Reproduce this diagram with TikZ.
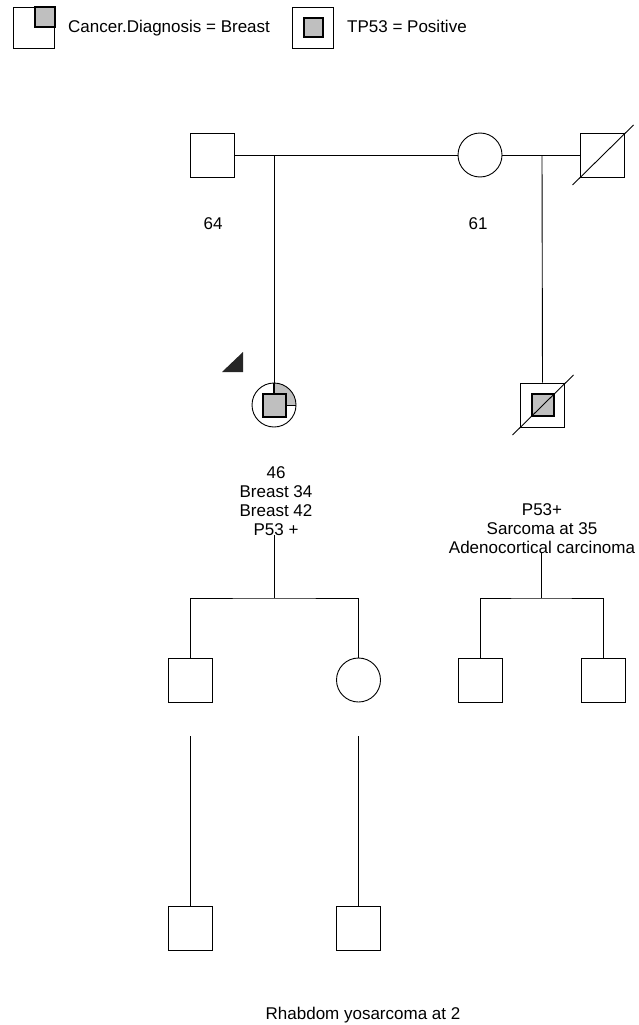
\documentclass[tikz,border=0pt]{standalone}
\usepackage{fontspec}
\setmainfont{Liberation Sans}
\begin{document}
\begin{tikzpicture}[x=1pt,y=-1pt,
  sq/.style={draw, line width=0.9pt, rectangle, minimum size=44pt, inner sep=0pt},
  ci/.style={draw, line width=0.9pt, circle, minimum size=44pt, inner sep=0pt},
  carrier/.style={draw, line width=2pt, rectangle, fill=gray!50, minimum size=22pt, inner sep=0pt},
  link/.style={line width=0.9pt},
  lbl/.style={font=\fontsize{17}{19}\selectfont, inner sep=0pt, align=center}]
\useasboundingbox (0,0) rectangle (639,1025);
% legend
\node[sq, minimum size=41pt] (L1) at (34,27.5) {};
\node[draw, line width=1.6pt, fill=gray!50, minimum size=20pt, inner sep=0pt] (L1q) at (45,17) {};
\node[lbl, anchor=base west] (L1t) at (68,33) {Cancer.Diagnosis = Breast};
\node[sq, minimum size=41pt] (L2) at (313,27.5) {};
\node[carrier, minimum size=19pt] (L2i) at (313,27.5) {};
\node[lbl, anchor=base west] (L2t) at (347,33) {TP53 = Positive};
% generation 1
\node[sq] (F1) at (212.5,155) {};
\node[ci] (M1) at (480,155) {};
\node[sq] (F2) at (602.5,155) {};
\draw[link] ([shift={(-30,30)}]F2.center) -- ([shift={(31,-30)}]F2.center);
\draw[link] (F1.east) -- (M1.west);
\draw[link] (M1.east) -- (F2.west);
\coordinate (d1) at (274,155);
\coordinate (d2) at (542,155);
\node[lbl, anchor=base] (a64) at (213,229) {64};
\node[lbl, anchor=base] (a61) at (478,229) {61};
% generation 2
\begin{scope}
  \clip (274,405) circle[radius=22];
  \fill[gray!50] (274,405) rectangle (297,382);
\end{scope}
\node[ci] (P) at (274,405) {};
\node[carrier, minimum size=23pt] (Pi) at (274,405) {};
\draw[line width=2pt] (P.north) -- (Pi.north);
\draw[link] (Pi.east) -- (P.east);
\fill[black!85] (222,372) -- (243,372) -- (243,352) -- cycle;
\node[sq] (S) at (542.5,405) {};
\node[carrier] (Si) at (542.5,405) {};
\draw[link] ([shift={(-30,30)}]S.center) -- ([shift={(31,-30)}]S.center);
\draw[link] (d1) -- (P.north);
\draw[link] (d2) -- (S.north);
\node[lbl, anchor=north] (tA) at (276,466) {46\\Breast 34\\Breast 42\\P53 +};
\node[lbl, anchor=north] (tB) at (542,503) {P53+\\Sarcoma at 35\\Adenocortical carcinoma};
% generation 3
\coordinate (jA) at (274,598);
\coordinate (jB) at (541,598);
\node[sq] (C1) at (190.5,680) {};
\node[ci] (C2) at (358.5,680) {};
\node[sq] (C3) at (480.5,680) {};
\node[sq] (C4) at (603.5,680) {};
\draw[link] (tA.south -| jA) -- (jA);
\draw[link] (tB.south -| jB) -- (jB);
\draw[link] (C1.north) |- (jA) -| (C2.north);
\draw[link] (C3.north) |- (jB) -| (C4.north);
% generation 4
\coordinate (u1) at (190.5,736);
\coordinate (u2) at (358.5,736);
\node[sq] (G1) at (190.5,928.5) {};
\node[sq] (G2) at (358.5,928.5) {};
\draw[link] (u1) -- (G1.north);
\draw[link] (u2) -- (G2.north);
\node[lbl, anchor=base] (rh) at (363,1019) {Rhabdom yosarcoma at 2};
\end{tikzpicture}
\end{document}
